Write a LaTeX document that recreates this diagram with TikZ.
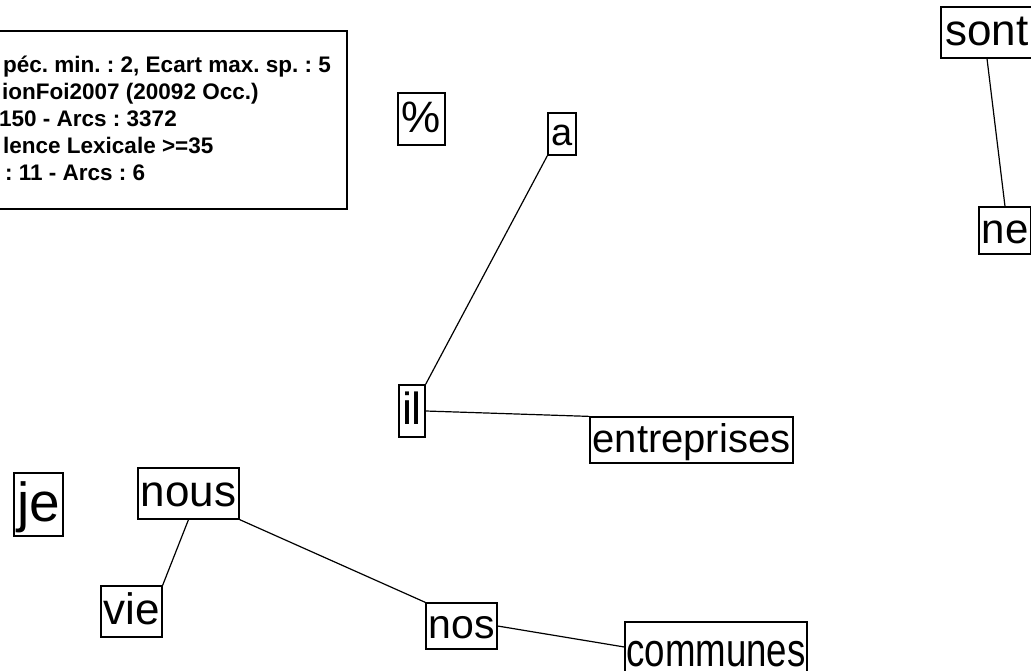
\documentclass[tikz,border=0pt]{standalone}
\usepackage{fontspec}
\setmainfont{Liberation Sans}
\frenchspacing
\newcommand\wfs[1]{\fontsize{#1}{#1}\selectfont}
\tikzset{
  word/.style={draw, line width=1.2pt, inner sep=0pt, text height=0.8*#1, text depth=0.2*#1, font=\wfs{#1}},
  link/.style={line width=1.2pt},
  info/.style={anchor=base west, inner sep=0pt, font=\bfseries\wfs{22.5}}
}
\begin{document}
\begin{tikzpicture}[x=1pt,y=-1pt]
\useasboundingbox (0,0) rectangle (1031,671);
\clip (0,0) rectangle (1031,671);
\fill[white] (0,0) rectangle (1031,671);
% info box
\node[draw, line width=1.4pt, minimum width=360pt, minimum height=178pt, inner sep=0pt] (infobox) at (167,120) {};
\node[info] (l1) at (3,73) {péc. min. : 2, Ecart max. sp. : 5};
\node[info] (l2) at (2,100) {ionFoi2007 (20092 Occ.)};
\node[info] (l3) at (-1,127) {150 - Arcs : 3372};
\node[info] (l4) at (3,154) {lence Lexicale >=35};
\node[info] (l5) at (5,181) {: 11 - Arcs : 6};
% words
\node[word=44pt, minimum width=47pt, minimum height=52pt] (pct) at (421.5,119) {\%};
\node[word=38pt, minimum width=28pt, minimum height=42pt] (a) at (562,134) {a};
\node[word=45pt, minimum width=26pt, minimum height=52pt] (il) at (412,411) {il};
\node[word=40pt, minimum width=203pt, minimum height=46pt] (entreprises) at (691.5,440) {entreprises};
\node[word=55pt, minimum width=49pt, minimum height=63pt] (je) at (38.5,504.5) {je};
\node[word=44pt, minimum width=101pt, minimum height=51pt] (nous) at (188.5,493.5) {nous};
\node[word=44pt, minimum width=61pt, minimum height=51pt] (vie) at (131.5,611.5) {vie};
\node[word=41pt, minimum width=71pt, minimum height=46pt] (nos) at (461.5,626) {nos};
\node[draw, line width=1.2pt, inner sep=0pt, text height=44pt, text depth=20pt, minimum width=182pt, font=\wfs{47}] (communes) at (716,654) {\scalebox{0.78}[1]{communes}};
\node[word=44pt, minimum width=92pt, minimum height=51pt] (sont) at (987,32.5) {sont};
\node[word=42pt, minimum width=52pt, minimum height=47pt] (ne) at (1005,230.5) {ne};
% links
\draw[link] (a.south west) -- (il.north east);
\draw[link] (il.east) -- (entreprises.north west);
\draw[link] (nous.south) -- (vie.north east);
\draw[link] (nous.south east) -- (nos.north west);
\draw[link] (nos.east) -- ([yshift=7pt]communes.west);
\draw[link] (sont.south) -- (ne.north);
\end{tikzpicture}
\end{document}
